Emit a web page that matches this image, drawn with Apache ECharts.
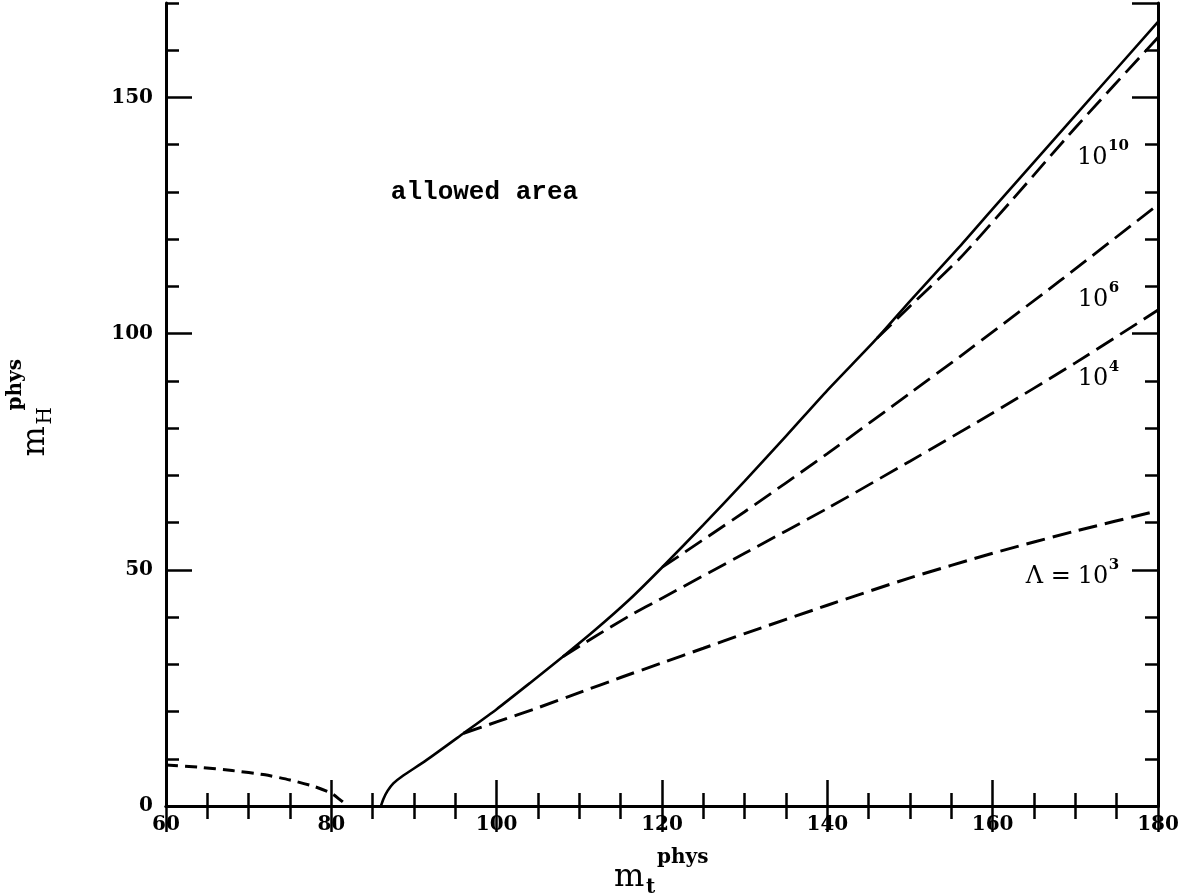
<!DOCTYPE html>
<html>
<head>
<meta charset="utf-8">
<script src="https://cdn.jsdelivr.net/npm/echarts@6/dist/echarts.min.js"></script>
<style>
  html, body { margin: 0; background: #fff; }
  #chart { width: 1188px; height: 894px; }
</style>
</head>
<body>
<div id="chart"></div>
<script>
// curves, points are [m_t, m_H]
var upperBound = [[86, 0], [86.3, 1.5], [86.8, 3.2], [87.5, 4.8], [88.5, 6.2], [91.5, 9.7], [96, 15.4],
  [100, 20.5], [104, 26], [108, 31.6], [112, 37.4], [116, 43.6], [120, 50.5], [125, 59.5], [130, 68.8],
  [135, 78.3], [140, 88], [146, 99], [150, 106.9], [156, 118.4], [160, 126.4], [170, 146.2], [180, 166]];
var lambda1e10 = [[146, 99], [150, 105.8], [156, 115.9], [162, 127.6], [170, 143.6], [180, 162.7]];
var lambda1e6 = [[120, 50.5], [130, 62.3], [140, 74.6], [150, 87.4], [156, 95.1], [168, 111], [180, 127.3]];
var lambda1e4 = [[108, 31.6], [112, 36], [116, 40.2], [120, 44], [130, 53.5], [140, 63], [150, 73],
  [160, 83.2], [170, 93.8], [180, 105]];
var lambda1e3 = [[96, 15.4], [100, 17.8], [105, 20.8], [110, 24], [115, 27.2], [120, 30.3], [125, 33.4],
  [130, 36.5], [140, 42.5], [150, 48.3], [160, 53.5], [170, 58.2], [180, 62.5]];
var lowerBound = [[60, 8.7], [64, 8.2], [68, 7.5], [72, 6.6], [75, 5.5], [78, 4.1], [80, 2.7], [81, 1.4], [82, 0]];

// curve labels: prefix, base, exponent, anchor [m_t, m_H] at left/baseline of the base
var labelPrefix = ['', '', '', 'Λ ='];
var labelBase = ['10', '10', '10', '10'];
var labelExp = ['10', '6', '4', '3'];
var labelAnchor = [[170.2, 135.5], [170.3, 105.5], [170.3, 88.8], [170.3, 46.8]];

var chart = echarts.init(document.getElementById('chart'));
var serif = 'DejaVu Serif';

function xAxisDef(pos, interval, len, labels, line) {
  return {
    type: 'value', position: pos, min: 60, max: 180, interval: interval,
    axisLine: { show: line, lineStyle: { color: '#000', width: 3 } },
    axisTick: { inside: true, length: len, lineStyle: { color: '#000', width: 2.5 } },
    axisLabel: { show: labels, color: '#000', fontFamily: serif, fontWeight: 'bold', fontSize: 20, margin: 9 },
    splitLine: { show: false }
  };
}
function yAxisDef(pos, interval, len, labels, line) {
  return {
    type: 'value', position: pos, min: 0, max: 170, interval: interval,
    axisLine: { show: line, lineStyle: { color: '#000', width: 3 } },
    axisTick: { inside: true, length: len, lineStyle: { color: '#000', width: 2.5 } },
    axisLabel: { show: labels, showMaxLabel: false, color: '#000', fontFamily: serif, fontWeight: 'bold', fontSize: 20, margin: 13 },
    splitLine: { show: false }
  };
}
function curve(data, dash, width) {
  return {
    type: 'line', data: data, xAxisIndex: 0, yAxisIndex: 0, symbol: 'none', smooth: 0.2,
    lineStyle: { color: '#000', width: width, type: dash }
  };
}

chart.setOption({
  animation: false,
  backgroundColor: '#fff',
  grid: { left: 166, top: 3, width: 992, height: 803, outerBoundsMode: 'none' },
  xAxis: [
    xAxisDef('bottom', 20, 26, true, true),
    xAxisDef('bottom', 5, 13, false, false),
    xAxisDef('top', 20, 26, false, true),
    xAxisDef('top', 5, 13, false, false)
  ],
  yAxis: [
    yAxisDef('left', 50, 26, true, true),
    yAxisDef('left', 10, 13, false, false),
    yAxisDef('right', 50, 26, false, true),
    yAxisDef('right', 10, 13, false, false)
  ],
  series: [
    curve(upperBound, 'solid', 2.6),
    curve(lambda1e10, [20, 8], 2.8),
    curve(lambda1e6, [20, 8], 2.8),
    curve(lambda1e4, [20, 8], 2.8),
    curve(lambda1e3, [19, 8], 3),
    curve(lowerBound, [12, 7], 3)
  ]
});

// texts placed through the axes
function px(p) { return chart.convertToPixel({ xAxisIndex: 0, yAxisIndex: 0 }, p); }
function txt(x, y, s, size, bold, family) {
  return {
    type: 'text', x: x, y: y,
    style: { text: s, fill: '#000', font: (bold ? 'bold ' : '') + size + 'px "' + (family || serif) + '"',
      textAlign: 'left', textVerticalAlign: 'bottom' }
  };
}

var graphics = [];
for (var i = 0; i < labelBase.length; i++) {
  var a = px(labelAnchor[i]);
  var kids = [txt(0, 4, labelBase[i], 24, false), txt(31, -12, labelExp[i], 15, true)];
  if (labelPrefix[i]) {
    kids.push({ type: 'text', x: -7, y: 4, style: { text: labelPrefix[i], fill: '#000',
      font: '24px "' + serif + '"', textAlign: 'right', textVerticalAlign: 'bottom' } });
  }
  graphics.push({ type: 'group', x: a[0], y: a[1], children: kids });
}

var aa = px([87.2, 128]);
graphics.push(txt(aa[0], aa[1] + 4, 'allowed area', 26, true, 'Liberation Mono'));

var xo = px([120, 0]);
graphics.push({ type: 'group', x: xo[0] - 48, y: xo[1] + 88, children: [
  txt(0, 0, 'm', 32, false), txt(32, 4, 't', 20, true), txt(43, -26, 'phys', 20, true)
] });
var yo = px([60, 85]);
graphics.push({ type: 'group', x: yo[0] - 114, y: yo[1] + 52, rotation: Math.PI / 2, children: [
  txt(0, 0, 'm', 32, false), txt(32, 4, 'H', 20, false), txt(46, -26, 'phys', 20, true)
] });

chart.setOption({ graphic: graphics });
</script>
</body>
</html>
